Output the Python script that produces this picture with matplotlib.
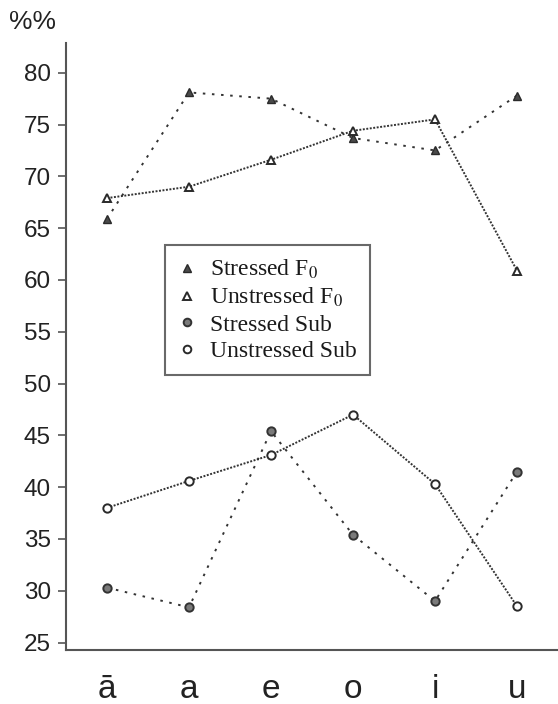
import matplotlib
matplotlib.use("Agg")
import matplotlib.pyplot as plt
from matplotlib.lines import Line2D

vowels = ["ā", "a", "e", "o", "i", "u"]
stressed_f0 = [65.9, 78.1, 77.5, 73.7, 72.5, 77.8]
unstressed_f0 = [67.9, 69.0, 71.6, 74.4, 75.5, 60.9]
stressed_sub = [30.3, 28.4, 45.4, 35.4, 29.0, 41.5]
unstressed_sub = [38.0, 40.6, 43.1, 47.0, 40.3, 28.5]
yticks = [25, 30, 35, 40, 45, 50, 55, 60, 65, 70, 75, 80]

plt.rcParams["font.family"] = ["Liberation Sans", "DejaVu Sans"]
plt.rcParams["mathtext.fontset"] = "stix"

fig = plt.figure(figsize=(5.58, 7.04), dpi=100)
ax = fig.add_axes([0.1183, 0.0767, 0.8817, 0.8622])

x = list(range(len(vowels)))
line_c = "#333333"
sparse = (1.3, 3.4)
dense = (1.0, 0.8)
lw = 1.4
ms = 6

ax.plot(x, stressed_f0, color=line_c, lw=lw, linestyle=(0, sparse),
        marker="^", ms=ms, mfc="#4a4a4a", mec="#2a2a2a", mew=1.0)
ax.plot(x, unstressed_f0, color=line_c, lw=lw, linestyle=(0, dense),
        marker="^", ms=ms, mfc="white", mec="#2a2a2a", mew=1.4)
ax.plot(x, stressed_sub, color=line_c, lw=lw, linestyle=(0, sparse),
        marker="o", ms=ms, mfc="#7a7a7a", mec="#333333", mew=1.4)
ax.plot(x, unstressed_sub, color=line_c, lw=lw, linestyle=(0, dense),
        marker="o", ms=ms, mfc="white", mec="#2a2a2a", mew=1.4)

ax.set_xlim(-0.5, 5.5)
ax.set_ylim(24.28, 82.87)
ax.set_xticks(x)
ax.set_xticklabels(vowels, fontsize=24, color="#222222")
ax.set_yticks(yticks)
ax.set_yticklabels([str(v) for v in yticks], fontsize=17.5, color="#222222")
ax.tick_params(axis="x", length=0, pad=17)
ax.tick_params(axis="y", length=6, width=1.2, color="#555555", pad=5)

for s in ["top", "right"]:
    ax.spines[s].set_visible(False)
for s in ["left", "bottom"]:
    ax.spines[s].set_color("#555555")
    ax.spines[s].set_linewidth(1.5)

handles = [
    Line2D([], [], ls="none", marker="^", ms=5.5, mfc="#4a4a4a", mec="#2a2a2a", mew=1.0),
    Line2D([], [], ls="none", marker="^", ms=5.5, mfc="white", mec="#2a2a2a", mew=1.4),
    Line2D([], [], ls="none", marker="o", ms=5.5, mfc="#7a7a7a", mec="#333333", mew=1.4),
    Line2D([], [], ls="none", marker="o", ms=5.5, mfc="white", mec="#2a2a2a", mew=1.4),
]
labels = [r"Stressed F$_{\mathrm{0}}$", r"Unstressed F$_{\mathrm{0}}$",
          "Stressed Sub", "Unstressed Sub"]
leg = ax.legend(handles, labels, loc="upper left",
                bbox_to_anchor=((165 - 66) / 492, 1 - (245 - 43) / 607),
                prop={"family": "Liberation Serif", "size": 17},
                frameon=True, fancybox=False, edgecolor="#444444",
                handlelength=0.8, handletextpad=0.55, labelspacing=0.2,
                borderpad=0.55, borderaxespad=0)
leg.get_frame().set_linewidth(1.5)
for t in leg.get_texts():
    t.set_color("#1a1a1a")

fig.text(33 / 558, 1 - 22 / 704, "%%", fontsize=19, color="#222222",
         ha="center", va="center")

fig.savefig("out.png", dpi=100)
